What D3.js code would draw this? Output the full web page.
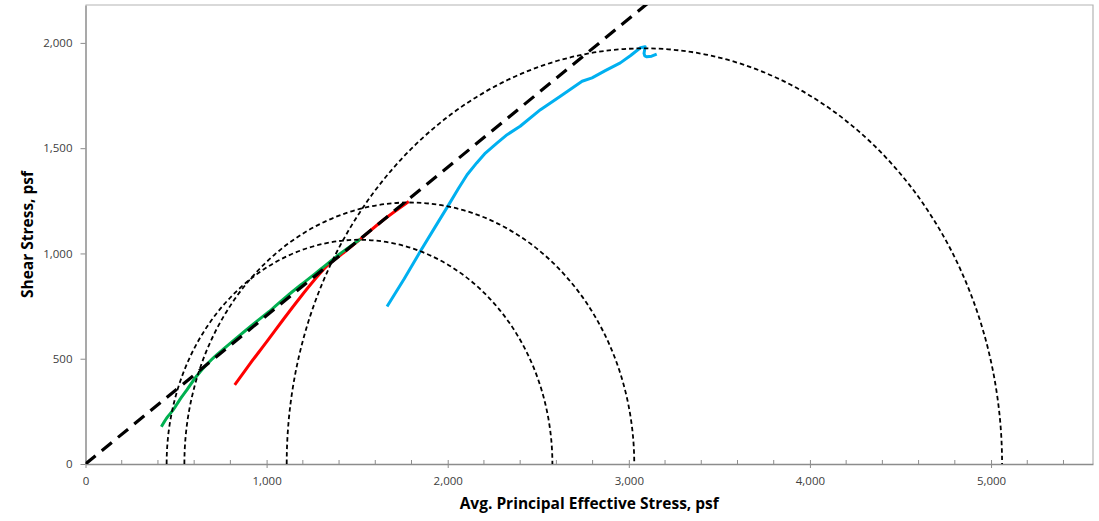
<!DOCTYPE html>
<html>
<head>
<meta charset="utf-8">
<script src="https://cdn.jsdelivr.net/npm/d3@7"></script>
<style>
  html, body { margin: 0; padding: 0; background: #fff; }
  svg { display: block; }
  text { font-family: "Open Sans", "Noto Sans", sans-serif; }
</style>
</head>
<body>
<svg id="chart" width="1099" height="521"></svg>
<script>
// ---------- data ----------
const xTicks = [0, 1000, 2000, 3000, 4000, 5000];
const xMinorTicks = [200, 400, 600, 800, 1200, 1400, 1600, 1800, 2200, 2400, 2600, 2800, 3200, 3400, 3600, 3800, 4200, 4400, 4600, 4800, 5200, 5400];
const yTicks = [0, 500, 1000, 1500, 2000];

// Mohr circles: minor / major principal effective stress (psf)
const circleSigma3 = [448, 546, 1111];
const circleSigma1 = [2578, 3030, 5061];

// failure envelope (through origin)
const envelopeX = [0, 3300];
const envelopeY = [0, 2326];

// stress paths
const greenX = [419, 450, 485, 520, 560, 614, 687, 761, 853, 945, 1030, 1111, 1200, 1300, 1400, 1518];
const greenY = [177, 220, 258, 305, 352, 418, 488, 545, 612, 677, 736, 796, 858, 926, 995, 1068];

const redX = [824, 870, 910, 1000, 1090, 1180, 1260, 1332, 1420, 1518, 1646, 1785];
const redY = [376, 430, 478, 580, 684, 785, 870, 940, 1000, 1068, 1160, 1247];

const blueX = [1665, 1760, 1849, 1930, 2006, 2060, 2107, 2160, 2208, 2270, 2328, 2400, 2512, 2622, 2742, 2797, 2870, 2953, 3010, 3064, 3090, 3084, 3088, 3099, 3126, 3154];
const blueY = [748, 880, 1010, 1125, 1232, 1310, 1374, 1430, 1477, 1523, 1564, 1604, 1683, 1747, 1818, 1834, 1868, 1905, 1940, 1977, 1982, 1950, 1938, 1934, 1937, 1947];

const xTitle = "Avg. Principal Effective Stress, psf";
const yTitle = "Shear Stress, psf";

// ---------- layout ----------
const W = 1099, H = 521;
const margin = { left: 85.5, right: 6, top: 5, bottom: 57 };
const svg = d3.select("#chart");

const x = d3.scaleLinear().domain([0, 5563]).range([margin.left, W - margin.right]);
const y = d3.scaleLinear().domain([0, 2180]).range([H - margin.bottom, margin.top]);

const fmt = d3.format(",");

// clip
svg.append("defs").append("clipPath").attr("id", "plotClip")
  .append("rect")
  .attr("x", margin.left).attr("y", margin.top)
  .attr("width", W - margin.right - margin.left)
  .attr("height", H - margin.bottom - margin.top);

// frame (top and right)
svg.append("path")
  .attr("d", `M${x.range()[0]},${y.range()[1]}H${x.range()[1]}V${y.range()[0]}`)
  .attr("fill", "none").attr("stroke", "#b4b4b4").attr("stroke-width", 1.2);

// x axis
const xAxisG = svg.append("g").attr("transform", `translate(0,${y(0)})`);
xAxisG.call(d3.axisBottom(x).tickValues(xTicks).tickFormat(fmt).tickSizeInner(4).tickSizeOuter(0).tickPadding(9));
xAxisG.selectAll(".tick line").attr("y1", -4);
xAxisG.selectAll(".minor").data(xMinorTicks).enter().append("line")
  .attr("class", "minor")
  .attr("x1", d => x(d)).attr("x2", d => x(d))
  .attr("y1", 0).attr("y2", -4)
  .attr("stroke", "#8c8c8c");

// y axis
const yAxisG = svg.append("g").attr("transform", `translate(${x(0)},0)`);
yAxisG.call(d3.axisLeft(y).tickValues(yTicks).tickFormat(fmt).tickSizeInner(5).tickSizeOuter(0).tickPadding(8));

[xAxisG, yAxisG].forEach(g => {
  g.select(".domain").attr("stroke", "#8c8c8c").attr("stroke-width", 1.5);
  g.selectAll(".tick line").attr("stroke", "#8c8c8c");
  g.selectAll(".tick text").attr("fill", "#404040").style("font-size", "11.5px");
});

// plotting layer
const plot = svg.append("g").attr("clip-path", "url(#plotClip)");

// stress paths (drawn first, dashed lines sit on top)
const pathLine = d3.line().x(d => x(d[0])).y(d => y(d[1])).curve(d3.curveCatmullRom.alpha(0.5));
const pathLineLin = d3.line().x(d => x(d[0])).y(d => y(d[1]));

function drawPath(xs, ys, color, gen) {
  plot.append("path")
    .datum(xs.map((v, i) => [v, ys[i]]))
    .attr("d", gen)
    .attr("fill", "none")
    .attr("stroke", color)
    .attr("stroke-width", 3)
    .attr("stroke-linejoin", "round")
    .attr("stroke-linecap", "butt");
}
drawPath(blueX, blueY, "#00b0f0", pathLineLin);
drawPath(redX, redY, "#ff0000", pathLine);
drawPath(greenX, greenY, "#00b050", pathLine);

// Mohr circles (upper halves, drawn as scaled elliptical arcs)
circleSigma3.forEach((s3, i) => {
  const s1 = circleSigma1[i];
  const r = (s1 - s3) / 2;
  const rx = x(r) - x(0);
  const ry = y(0) - y(r);
  plot.append("path")
    .attr("d", `M${x(s3)},${y(0)} A${rx},${ry} 0 0 1 ${x(s1)},${y(0)}`)
    .attr("fill", "none")
    .attr("stroke", "#000")
    .attr("stroke-width", 1.8)
    .attr("stroke-dasharray", "4.5,3");
});

// failure envelope
const envLine = d3.line().x(d => x(d[0])).y(d => y(d[1]));
plot.append("path")
  .datum(envelopeX.map((v, i) => [v, envelopeY[i]]))
  .attr("d", envLine)
  .attr("fill", "none")
  .attr("stroke", "#000")
  .attr("stroke-width", 3.2)
  .attr("stroke-dasharray", "13,8");

// axis titles
svg.append("text")
  .attr("x", (x.range()[0] + x.range()[1]) / 2)
  .attr("y", 509)
  .attr("text-anchor", "middle")
  .attr("font-weight", "bold")
  .attr("fill", "#000")
  .style("font-size", "15.5px")
  .text(xTitle);

svg.append("text")
  .attr("transform", `translate(33,${(y.range()[0] + y.range()[1]) / 2}) rotate(-90)`)
  .attr("text-anchor", "middle")
  .attr("font-weight", "bold")
  .attr("fill", "#000")
  .style("font-size", "15.5px")
  .text(yTitle);
</script>
</body>
</html>
